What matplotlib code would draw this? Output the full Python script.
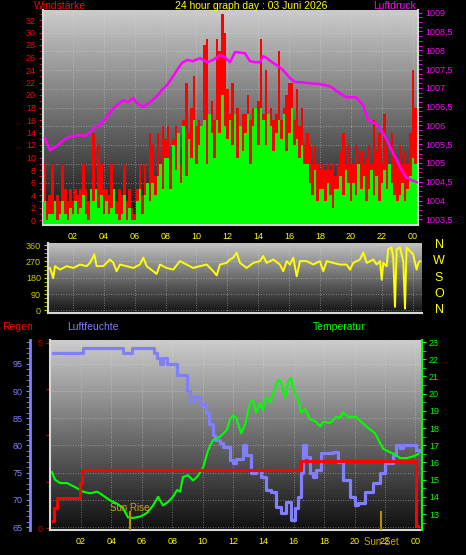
import numpy as np
import matplotlib
matplotlib.use("Agg")
import matplotlib.pyplot as plt

plt.rcParams['font.family'] = ['Liberation Sans', 'DejaVu Sans']

# ---- wind (10 minute bars) ----
wind_gust = [9, 3, 4, 9, 3, 4,  3, 9, 5, 3, 5, 3,  5, 4, 5, 9, 5, 3,  5, 14, 5, 12, 9, 5,
             5, 4, 9, 5, 3, 5,  4, 9, 3, 5, 2, 1,  5, 9, 4, 9, 5, 14,  12, 7, 14, 9, 15, 13,
             15, 10, 13, 15, 12, 9,  16, 22, 14, 18, 23, 15,  16, 15, 28, 29, 17, 19,
             16, 29, 27, 33, 30, 21,  17, 22, 16, 18, 15, 17,  17, 20, 16, 18, 17, 19,
             29, 17, 24, 17, 18, 16,  17, 27, 16, 18, 20, 22,  22, 16, 21, 15, 18, 12,
             14, 12, 9, 12, 9, 8,  9, 8, 9, 8, 9, 7,  9, 11, 14, 9, 12, 9,  9, 12, 9, 11, 9, 10,
             12, 9, 16, 11, 14, 9,  17, 12, 9, 14, 11, 9,  12, 9, 11, 9, 14, 24,  18, 16]
wind_avg = [3, 0, 1, 1, 3, 0,  1, 3, 1, 0, 2, 1,  3, 1, 2, 4, 1, 0,  5, 3, 5, 2, 4, 1,
            3, 1, 2, 5, 1, 0,  1, 4, 0, 2, 0, 0,  3, 5, 1, 4, 6, 3,  6, 4, 7, 9, 5, 10,
            10, 5, 12, 8, 14, 6,  15, 7, 13, 10, 16, 9,  12, 15, 16, 9, 17, 14,
            10, 16, 14, 20, 15, 13,  16, 12, 17, 10, 15, 11,  14, 17, 9, 15, 18, 12,
            18, 16, 12, 17, 15, 11,  14, 16, 13, 17, 11, 14,  18, 12, 13, 10, 12, 9,
            9, 6, 4, 8, 3, 5,  5, 3, 6, 4, 2, 5,  5, 7, 4, 8, 6, 3,  6, 4, 9, 5, 7, 3,
            5, 8, 4, 7, 3, 6,  8, 5, 9, 6, 4, 3,  4, 6, 3, 5, 7, 10,  9, 6]
wind_min = [0, 0, 0, 0, 0, 0,  0, 0, 0, 0, 0, 0,  0, 0, 0, 0, 0, 0,  0, 0, 0, 0, 0, 0,
            0, 0, 0, 0, 0, 0,  0, 0, 0, 0, 0, 0,  0, 0, 0, 0, 0, 0,  0, 0, 0, 1, 1, 1,
            1, 1, 1, 2, 1, 1,  2, 2, 1, 3, 2, 2,  3, 2, 3, 5, 3, 3,
            3, 3, 4, 6, 3, 3,  2, 3, 3, 2, 5, 3,  3, 3, 2, 3, 4, 3,
            3, 5, 3, 3, 4, 3,  3, 2, 3, 3, 2, 2,  1, 1, 1, 0, 1, 1,
            0, 0, 0, 0, 0, 0,  0, 0, 0, 0, 0, 0,  0, 0, 0, 0, 0, 0,  0, 0, 0, 0, 0, 0,
            0, 0, 0, 0, 0, 0,  0, 0, 0, 0, 0, 0,  0, 0, 0, 0, 1, 1,  1, 1]

# ---- pressure ----
press_t = [0.19, 0.52, 0.84, 1.17, 1.49, 1.94, 2.46, 2.78, 3.11, 3.43, 3.75, 4.01, 4.27,
           4.53, 4.92, 5.24, 5.57, 5.89, 6.15, 6.54, 6.99, 7.44, 7.83, 8.09, 8.41, 8.74,
           9.06, 9.39, 9.77, 10.23, 10.68, 11.07, 11.52, 11.84, 12.17, 12.49, 13.14, 13.46,
           13.79, 14.11, 14.30, 14.56, 14.89, 15.28, 15.60, 16.05, 16.38, 16.70, 17.35,
           17.99, 18.64, 19.16, 19.68, 20.32, 20.78, 21.10, 21.55, 21.88, 22.33, 22.72,
           22.98, 23.17, 23.56, 23.95, 24.27]
press_hpa = [1005.66, 1005.34, 1005.42, 1005.53, 1005.64, 1005.72, 1005.74, 1005.72, 1005.82,
             1005.95, 1006.01, 1006.14, 1006.27, 1006.41, 1006.57, 1006.67, 1006.62, 1006.73,
             1006.59, 1006.49, 1006.62, 1006.78, 1006.97, 1007.07, 1007.26, 1007.47, 1007.66,
             1007.74, 1007.71, 1007.79, 1007.68, 1007.74, 1007.87, 1007.82, 1007.68, 1007.95,
             1007.92, 1007.71, 1007.68, 1007.68, 1007.84, 1007.79, 1007.68, 1007.58, 1007.47,
             1007.26, 1007.15, 1007.15, 1007.12, 1007.10, 1007.04, 1006.89, 1006.75, 1006.75,
             1006.54, 1006.14, 1006.06, 1005.93, 1005.61, 1005.26, 1005.08, 1004.89, 1004.62,
             1004.54, 1004.49]

# ---- wind direction ----
dir_t = [0.52, 0.73, 0.84, 1.17, 1.60, 2.03, 2.46, 2.89, 3.11, 3.39, 3.54, 3.97, 4.40, 4.62,
         4.83, 5.05, 5.48, 5.91, 6.34, 6.56, 6.78, 7.20, 7.42, 7.64, 8.07, 8.50, 8.93, 9.36,
         9.79, 10.23, 10.66, 11.09, 11.31, 11.52, 11.95, 12.17, 12.38, 12.60, 12.82, 13.25,
         13.68, 14.11, 14.32, 14.54, 14.97, 15.40, 15.62, 15.84, 16.05, 16.27, 16.49, 16.70,
         17.13, 17.56, 17.99, 18.21, 18.43, 18.86, 19.29, 19.72, 19.94, 20.15, 20.58, 20.80,
         21.02, 21.45, 21.66, 21.88, 21.99, 22.09, 22.31, 22.41, 22.63, 22.74, 22.85, 22.96,
         23.17, 23.39, 23.50, 23.60, 23.82, 24.03, 24.25, 24.36, 24.47]
dir_deg = [234, 178, 244, 225, 244, 234, 253, 244, 262, 309, 244, 244, 281, 262,
           216, 253, 244, 234, 253, 291, 244, 216, 201, 253, 234, 225, 272, 253,
           234, 244, 253, 216, 193, 253, 262, 281, 291, 319, 262, 234,
           262, 272, 300, 262, 281, 253, 216, 272, 253, 291, 188, 272,
           272, 253, 272, 216, 272, 262, 253, 253, 225, 262, 281, 319,
           262, 281, 253, 272, 169, 262, 244, 338, 347, 291, 19, 338,
           347, 272, 9, 347, 328, 309, 225, 262, 272]

# ---- humidity ----
hum_t = [0.16, 2.05, 2.1, 4.7, 4.75, 5.3, 5.35, 6.67, 6.8, 7.0, 7.2, 7.4, 7.66, 8.05, 8.3,
         8.7, 8.97, 9.17, 9.4, 9.7, 9.83, 10.2, 10.4, 10.7, 10.8, 11.15, 11.35, 11.8, 12.0,
         12.2, 12.66, 12.85, 13.2, 13.5, 13.85, 14.2, 14.5, 14.8, 15.16, 15.5, 15.8, 16.1,
         16.3, 16.5, 16.6, 16.8, 17.07, 17.27, 17.46, 17.8, 18.6, 18.9, 19.25, 19.7, 20.0,
         20.2, 20.7, 21.2, 21.67, 22.0, 22.5, 22.7, 23.0, 23.2, 23.85, 24.05, 24.3]
hum_pct = [97, 97, 98, 98, 97, 97, 98, 98, 97, 96, 95, 96, 95, 95, 93,
           93, 90, 88, 89, 89, 87.5, 86, 84, 82, 81, 80.5, 79.7, 77.4, 76.8,
           77.5, 80.1, 78.3, 75, 75.5, 74.2, 71.8, 71.4, 68.7, 67.6, 69.6, 66.3, 68.5,
           70.5, 75, 80.1, 77.9, 75, 74.2, 75.5, 78.6, 78.8, 77, 73.7, 70.5, 69,
           69.4, 71.5, 73.1, 75, 76.8, 78.3, 80.1, 79.5, 80.1, 80.1, 79.2, 79]

# ---- temperature ----
temp_t = [0.09, 0.29, 0.62, 1.08, 1.74, 2.13, 2.59, 3.05, 3.25, 3.9, 4.37, 4.76, 5.09, 5.42,
          5.88, 6.34, 6.74, 7.07, 7.39, 7.72, 8.05, 8.32, 8.51, 8.71, 9.04, 9.37, 9.63, 10.03,
          10.36, 10.68, 11.15, 11.6, 11.8, 12.0, 12.2, 12.53, 12.79, 13.12, 13.32, 13.51,
          13.78, 13.97, 14.17, 14.43, 14.63, 14.96, 15.16, 15.42, 15.62, 15.82, 16.08, 16.28,
          16.47, 16.74, 17.07, 17.4, 17.73, 17.93, 18.39, 18.78, 19.04, 19.24, 19.57, 20.1,
          20.43, 20.76, 21.34, 21.87, 22.3, 22.6, 23.0, 23.4, 23.85, 24.2]
temp_c = [15.44, 15.0, 14.8, 14.8, 14.5, 14.3, 14.2, 14.3, 14.2, 13.8, 13.6, 13.35, 12.8, 12.77,
          12.85, 13.06, 13.5, 14.0, 13.5, 13.7, 14.0, 14.4, 14.3, 15.15, 15.25, 14.95, 15.15, 15.7,
          16.7, 17.3, 17.5, 17.9, 18.5, 18.75, 18.6, 17.7, 18.2, 19.5, 19.6, 18.9,
          19.45, 19.05, 19.8, 19.5, 20.0, 20.8, 20.7, 19.8, 20.7, 20.9, 20.0, 19.7,
          18.9, 19.1, 18.5, 18.4, 18.1, 18.35, 18.3, 18.64, 18.6, 18.9, 18.65, 18.65,
          18.35, 18.1, 17.7, 16.8, 16.6, 16.5, 16.25, 16.25, 16.35, 16.5]

# ---- rain (step) ----
rain_t = [0.15, 0.2, 0.45, 1.78, 1.95, 2.08, 16.45, 24.05, 24.15]
rain_mm = [0.2, 0.55, 0.8, 0.8, 1.22, 1.57, 1.81, 0.05, 0.05]

sun_rise = 5.22
sun_set = 21.74
hour_labels = ['02', '04', '06', '08', '10', '12', '14', '16', '18', '20', '22', '00']

W, H = 466, 555
fig = plt.figure(figsize=(W / 100, H / 100), dpi=100, facecolor='black')


def box(left, top, right, bottom):
    return [left / W, 1 - bottom / H, (right - left) / W, (bottom - top) / H]


def background(ax, top=0.80, bottom=0.06):
    grad = np.linspace(top, bottom, 256).reshape(-1, 1)
    ax.imshow(grad, extent=[0, 1, 0, 1], transform=ax.transAxes, cmap='gray',
              vmin=0, vmax=1, aspect='auto', zorder=0, interpolation='bilinear')


def frame(ax):
    for s in ['top', 'right']:
        ax.spines[s].set_visible(False)
    for s in ['left', 'bottom']:
        ax.spines[s].set_color('#d8d8d8')
        ax.spines[s].set_linewidth(1.5)


grid_kw = dict(color='#e0e0e0', lw=0.6, ls=(0, (1, 2)), alpha=0.55, zorder=1)

# ================= top: wind + pressure =================
ax_w = fig.add_axes(box(43, 10, 418, 225))
background(ax_w)
t_bar = 0.17 + np.arange(len(wind_gust)) / 6.0
base = 0.7
ax_w.bar(t_bar, np.array(wind_gust) + base, bottom=-base, width=1 / 6, color='#ff0000',
         linewidth=0, zorder=2)
ax_w.bar(t_bar, np.array(wind_min) + base, bottom=-base, width=1 / 6, color='#101010',
         linewidth=0, zorder=3)
ax_w.bar(t_bar, np.array(wind_avg) + base, bottom=-base, width=1 / 6, color='#00ff00',
         linewidth=0, zorder=4)
for h in range(2, 25, 2):
    ax_w.axvline(h, **grid_kw)
for v in range(0, 34, 3):
    ax_w.axhline(v, **grid_kw)
ax_w.set_xlim(0.065, 24.34)
ax_w.set_ylim(-0.8, 33.6)
ax_w.set_yticks(range(0, 33, 2))
ax_w.set_yticks(range(0, 34, 1), minor=True)
ax_w.tick_params(axis='y', which='both', colors='#ff0000', labelsize=6.5, length=3, pad=2)
ax_w.set_xticks(range(2, 25, 2))
ax_w.set_xticklabels(hour_labels)
ax_w.tick_params(axis='x', colors='#ffff00', labelsize=6.5, length=0, pad=5)
frame(ax_w)

ax_p = ax_w.twinx()
ax_p.plot(press_t, press_hpa, color='#ff00ff', lw=1.8, zorder=5)
ax_p.set_ylim(1003.35, 1009.07)
ax_p.set_yticks(np.arange(1003.5, 1009.01, 0.5))
ax_p.set_yticklabels([('%g' % v).replace('.', ',') for v in np.arange(1003.5, 1009.01, 0.5)])
ax_p.set_yticks(np.arange(1003.5, 1009.01, 0.125), minor=True)
ax_p.tick_params(axis='y', which='both', colors='#ff00ff', labelsize=6.5, length=3, pad=2)
for s in ['top', 'left', 'bottom']:
    ax_p.spines[s].set_visible(False)
ax_p.spines['right'].set_color('#d8d8d8')
ax_p.spines['right'].set_linewidth(1.5)

fig.text(34 / W, 1 - 6 / H, 'Windstärke', color='#ff0000', fontsize=7.5, va='center', ha='left')
fig.text(251 / W, 1 - 6 / H, '24 hour graph day : 03 Juni 2026', color='#ffff00', fontsize=7.5,
         va='center', ha='center')
fig.text(416 / W, 1 - 6 / H, 'Luftdruck', color='#ff00ff', fontsize=7.5, va='center', ha='right')

# ================= middle: wind direction =================
ax_d = fig.add_axes(box(48, 243, 422, 313))
background(ax_d, 0.76, 0.08)
for h in range(2, 25, 2):
    ax_d.axvline(h, **grid_kw)
for v in range(0, 361, 90):
    ax_d.axhline(v, **grid_kw)
ax_d.plot(dir_t, dir_deg, color='#ffff00', lw=1.4, zorder=3)
ax_d.set_xlim(0.39, 24.6)
ax_d.set_ylim(-15, 372)
ax_d.set_xticks([])
ax_d.set_yticks(range(0, 361, 90))
ax_d.set_yticks(np.arange(0, 361, 22.5), minor=True)
ax_d.tick_params(axis='y', which='both', colors='#cccc00', labelsize=6.5, length=3, pad=2)
frame(ax_d)
for lab, v in zip(['N', 'W', 'S', 'O', 'N'], [360, 270, 180, 90, 0]):
    ax_d.text(439, v, lab, color='#ffff00', fontsize=9, ha='center', va='center',
              transform=matplotlib.transforms.blended_transform_factory(
                  matplotlib.transforms.IdentityTransform(), ax_d.transData))

# ================= bottom: humidity / temperature / rain =================
ax_h = fig.add_axes(box(50, 340, 422, 530))
background(ax_h)
for h in range(2, 25, 2):
    ax_h.axvline(h, **grid_kw)
for v in range(65, 100, 5):
    ax_h.axhline(v, **grid_kw)
ax_h.plot(hum_t, hum_pct, color='#8080ff', lw=2.3, drawstyle='steps-post', zorder=3)
ax_h.set_xlim(-0.04, 24.43)
ax_h.set_ylim(64.45, 99.4)
ax_h.set_yticks(range(65, 96, 5))
ax_h.set_yticks(range(65, 100), minor=True)
ax_h.yaxis.set_ticks_position('left')
ax_h.spines['left'].set_position(('outward', 14.5))
ax_h.spines['left'].set_color('#8080ff')
ax_h.spines['left'].set_linewidth(2)
ax_h.spines['bottom'].set_color('#d8d8d8')
ax_h.spines['bottom'].set_linewidth(1.5)
for s in ['top', 'right']:
    ax_h.spines[s].set_visible(False)
ax_h.tick_params(axis='y', which='both', colors='#8080ff', labelsize=6.5, length=3, pad=2)
ax_h.set_xticks(range(2, 25, 2))
ax_h.set_xticklabels(hour_labels)
ax_h.tick_params(axis='x', colors='#ffff00', labelsize=6.5, length=0, pad=5)

ax_t = ax_h.twinx()
ax_t.plot(temp_t, temp_c, color='#00ff00', lw=1.5, zorder=3)
ax_t.set_ylim(12.07, 23.12)
ax_t.set_yticks(range(13, 24))
ax_t.set_yticks(np.arange(12.5, 23.1, 0.5), minor=True)
ax_t.tick_params(axis='y', which='both', colors='#00ff00', labelsize=6.5, length=3, pad=2)
for s in ['top', 'left', 'bottom']:
    ax_t.spines[s].set_visible(False)
ax_t.spines['right'].set_color('#00ff00')
ax_t.spines['right'].set_linewidth(1.5)

ax_r = ax_h.twinx()
ax_r.plot(rain_t, rain_mm, color='#ff0000', lw=2.2, drawstyle='steps-post', zorder=4)
ax_r.axvline(sun_rise, ymin=0, ymax=0.095, color='#b09000', lw=1.5)
ax_r.axvline(sun_set, ymin=0, ymax=0.095, color='#b09000', lw=1.5)
ax_r.set_ylim(-0.054, 5.08)
ax_r.yaxis.set_ticks_position('left')
ax_r.set_yticks([0, 1.25, 2.5, 3.75, 5])
ax_r.set_yticklabels(['0', '', '', '', '5'])
ax_r.tick_params(axis='y', colors='#cc0000', labelsize=6.5, length=3, pad=2)
for s in ['top', 'right', 'bottom']:
    ax_r.spines[s].set_visible(False)
ax_r.spines['left'].set_color('#d8d8d8')
ax_r.spines['left'].set_linewidth(1.5)
ax_r.text(sun_rise, 0.54, 'Sun Rise', color='#c8a800', fontsize=7, ha='center', va='center')
ax_r.text(sun_set, -0.38, 'Sun Set', color='#c8a800', fontsize=7, ha='center', va='center')

fig.text(2 / W, 1 - 327 / H, 'Regen', color='#ff0000', fontsize=7.5, va='center', ha='left')
fig.text(67 / W, 1 - 327 / H, 'Luftfeuchte', color='#8080ff', fontsize=7.5, va='center', ha='left')
fig.text(313 / W, 1 - 327 / H, 'Temperatur', color='#00ff00', fontsize=7.5, va='center', ha='left')

fig.savefig('out.png', dpi=100, facecolor='black')
